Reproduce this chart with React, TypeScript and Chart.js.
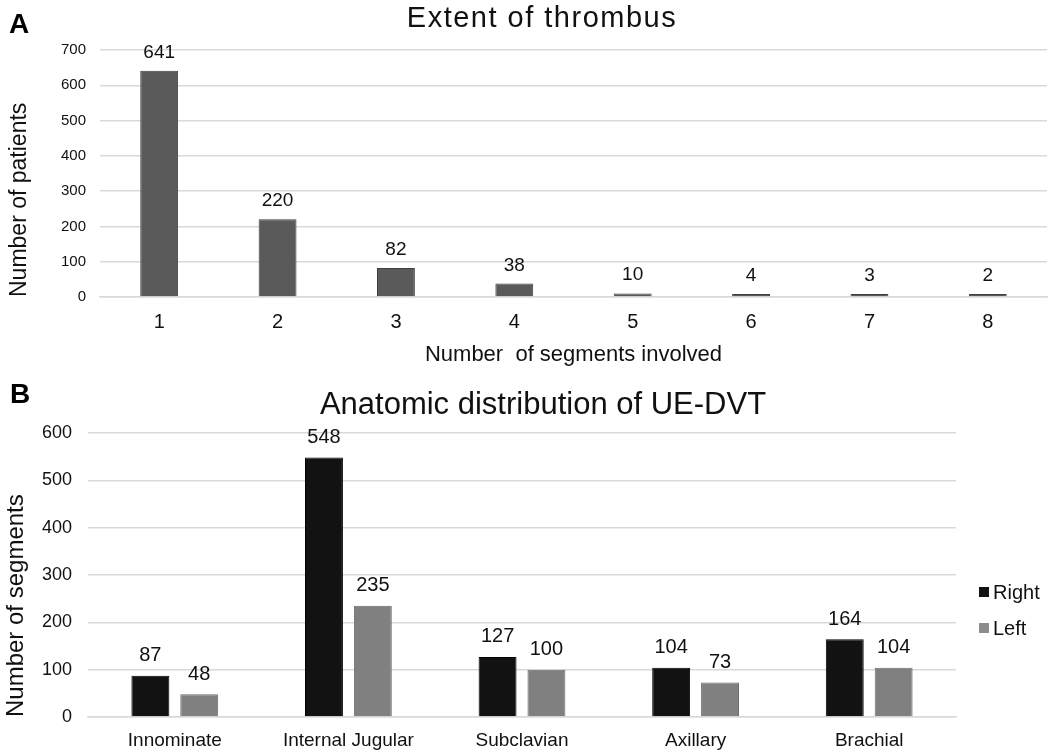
import React, { useEffect, useRef } from 'react';
import { Chart, registerables } from 'chart.js';

Chart.register(...registerables);

const FONT = '"Liberation Sans", Arial, Helvetica, sans-serif';
Chart.defaults.font.family = FONT;

// Panel A data
const segmentCategories = ['1', '2', '3', '4', '5', '6', '7', '8'];
const patientCounts = [641, 220, 82, 38, 10, 4, 3, 2];
const patientAxisMax = 700;
const patientAxisStep = 100;

// Panel B data
const veinCategories = ['Innominate', 'Internal Jugular', 'Subclavian', 'Axillary', 'Brachial'];
const rightCounts = [87, 548, 127, 104, 164];
const leftCounts = [48, 235, 100, 73, 104];
const segmentAxisMax = 600;
const segmentAxisStep = 100;

const TEXT = '#111111';
const GRID = '#d9d9d9';

const valueLabels = {
  id: 'valueLabels',
  afterDatasetsDraw(chart: any, _args: any, opts: any) {
    const { ctx } = chart;
    ctx.save();
    ctx.font = `${opts.size}px ${FONT}`;
    ctx.fillStyle = opts.color;
    ctx.textAlign = 'center';
    ctx.textBaseline = 'alphabetic';
    chart.data.datasets.forEach((ds: any, i: number) => {
      const meta = chart.getDatasetMeta(i);
      meta.data.forEach((el: any, j: number) => {
        ctx.fillText(String(ds.data[j]), el.x, el.y - opts.gap);
      });
    });
    ctx.restore();
  },
};

const panelTitle = {
  id: 'panelTitle',
  afterDraw(chart: any, _args: any, opts: any) {
    const { ctx } = chart;
    ctx.save();
    ctx.font = `${opts.size}px ${FONT}`;
    (ctx as any).letterSpacing = `${opts.spacing || 0}px`;
    ctx.fillStyle = opts.color;
    ctx.textAlign = 'center';
    ctx.textBaseline = 'alphabetic';
    ctx.fillText(opts.text, opts.x, opts.y);
    ctx.restore();
  },
};

export default function App() {
  const refA = useRef<HTMLCanvasElement>(null);
  const refB = useRef<HTMLCanvasElement>(null);

  useEffect(() => {
    const chartA = new Chart(refA.current as HTMLCanvasElement, {
      type: 'bar',
      data: {
        labels: segmentCategories,
        datasets: [
          {
            label: 'Number of patients',
            data: patientCounts,
            backgroundColor: '#5a5a5a',
            borderColor: '#3f3f3f',
            borderWidth: 1,
            barPercentage: 0.32,
            categoryPercentage: 1,
            minBarLength: 3,
          },
        ],
      },
      options: {
        responsive: false,
        animation: false,
        layout: { padding: { left: 0, right: 3, top: 50, bottom: 0 } },
        plugins: {
          legend: { display: false },
          tooltip: { enabled: false },
          title: { display: false },
          valueLabels: { size: 19, gap: 13, color: TEXT },
          panelTitle: { text: 'Extent of thrombus', x: 542, y: 27, size: 29, spacing: 1.5, color: TEXT },
        } as any,
        scales: {
          x: {
            grid: { display: false, drawTicks: false },
            border: { display: true, color: GRID, width: 1.5 },
            ticks: { font: { size: 20 }, color: TEXT, padding: 13, maxRotation: 0, autoSkip: false },
            title: {
              display: true,
              text: 'Number  of segments involved',
              font: { size: 22 },
              color: TEXT,
              padding: { top: 0, bottom: 7 },
            },
            afterFit: (s: any) => {
              s.height = 78;
            },
          },
          y: {
            min: 0,
            max: patientAxisMax,
            ticks: { stepSize: patientAxisStep, font: { size: 15 }, color: TEXT, padding: 14 },
            grid: { color: GRID, lineWidth: 1.5, drawTicks: false },
            border: { display: false },
            title: {
              display: true,
              text: 'Number of patients',
              align: 'start',
              font: { size: 23 },
              color: TEXT,
              padding: { top: 6, bottom: 0 },
            },
            afterFit: (s: any) => {
              s.width = 100;
            },
          },
        },
      } as any,
      plugins: [valueLabels, panelTitle],
    });

    const chartB = new Chart(refB.current as HTMLCanvasElement, {
      type: 'bar',
      data: {
        labels: veinCategories,
        datasets: [
          {
            label: 'Right',
            data: rightCounts,
            backgroundColor: '#121212',
            borderColor: '#000000',
            borderWidth: 1,
            barPercentage: 0.776,
            categoryPercentage: 0.563,
          },
          {
            label: 'Left',
            data: leftCounts,
            backgroundColor: '#808080',
            borderColor: '#6c6c6c',
            borderWidth: 1,
            barPercentage: 0.776,
            categoryPercentage: 0.563,
          },
        ],
      },
      options: {
        responsive: false,
        animation: false,
        layout: { padding: { left: 0, right: 94, top: 58, bottom: 0 } },
        plugins: {
          legend: { display: false },
          tooltip: { enabled: false },
          title: { display: false },
          valueLabels: { size: 20, gap: 14.5, color: TEXT },
          panelTitle: { text: 'Anatomic distribution of UE-DVT', x: 543, y: 39, size: 31, spacing: 0, color: TEXT },
        } as any,
        scales: {
          x: {
            grid: { display: false, drawTicks: false },
            border: { display: true, color: GRID, width: 1.5 },
            ticks: { font: { size: 19 }, color: TEXT, padding: 12, maxRotation: 0, autoSkip: false },
            afterFit: (s: any) => {
              s.height = 39;
            },
          },
          y: {
            min: 0,
            max: segmentAxisMax,
            ticks: { stepSize: segmentAxisStep, font: { size: 18 }, color: TEXT, padding: 16 },
            grid: { color: GRID, lineWidth: 1.5, drawTicks: false },
            border: { display: false },
            title: {
              display: true,
              text: 'Number of segments',
              align: 'start',
              font: { size: 24 },
              color: TEXT,
              padding: { top: 2, bottom: 0 },
            },
            afterFit: (s: any) => {
              s.width = 88;
            },
          },
        },
      } as any,
      plugins: [valueLabels, panelTitle],
    });

    return () => {
      chartA.destroy();
      chartB.destroy();
    };
  }, []);

  const letterStyle: React.CSSProperties = {
    position: 'absolute',
    fontFamily: FONT,
    fontWeight: 'bold',
    fontSize: 28,
    lineHeight: '28px',
    color: '#000',
  };
  const legendRow = (top: number, color: string, text: string) => (
    <div
      style={{
        position: 'absolute',
        left: 979,
        top,
        height: 24,
        display: 'flex',
        alignItems: 'center',
        fontFamily: FONT,
        fontSize: 20,
        lineHeight: '24px',
        color: TEXT,
      }}
    >
      <span style={{ display: 'inline-block', width: 10, height: 10, background: color, marginRight: 4 }} />
      <span>{text}</span>
    </div>
  );

  return (
    <div style={{ position: 'absolute', left: 0, top: 0, width: 1050, height: 756, background: '#fff', overflow: 'hidden' }}>
      <canvas ref={refA} width={1050} height={375} style={{ position: 'absolute', left: 0, top: 0, display: 'block' }} />
      <canvas ref={refB} width={1050} height={381} style={{ position: 'absolute', left: 0, top: 375, display: 'block' }} />
      <div style={{ ...letterStyle, left: 9, top: 10 }}>A</div>
      <div style={{ ...letterStyle, left: 10, top: 380 }}>B</div>
      {legendRow(580, '#111111', 'Right')}
      {legendRow(616, '#8c8c8c', 'Left')}
    </div>
  );
}
